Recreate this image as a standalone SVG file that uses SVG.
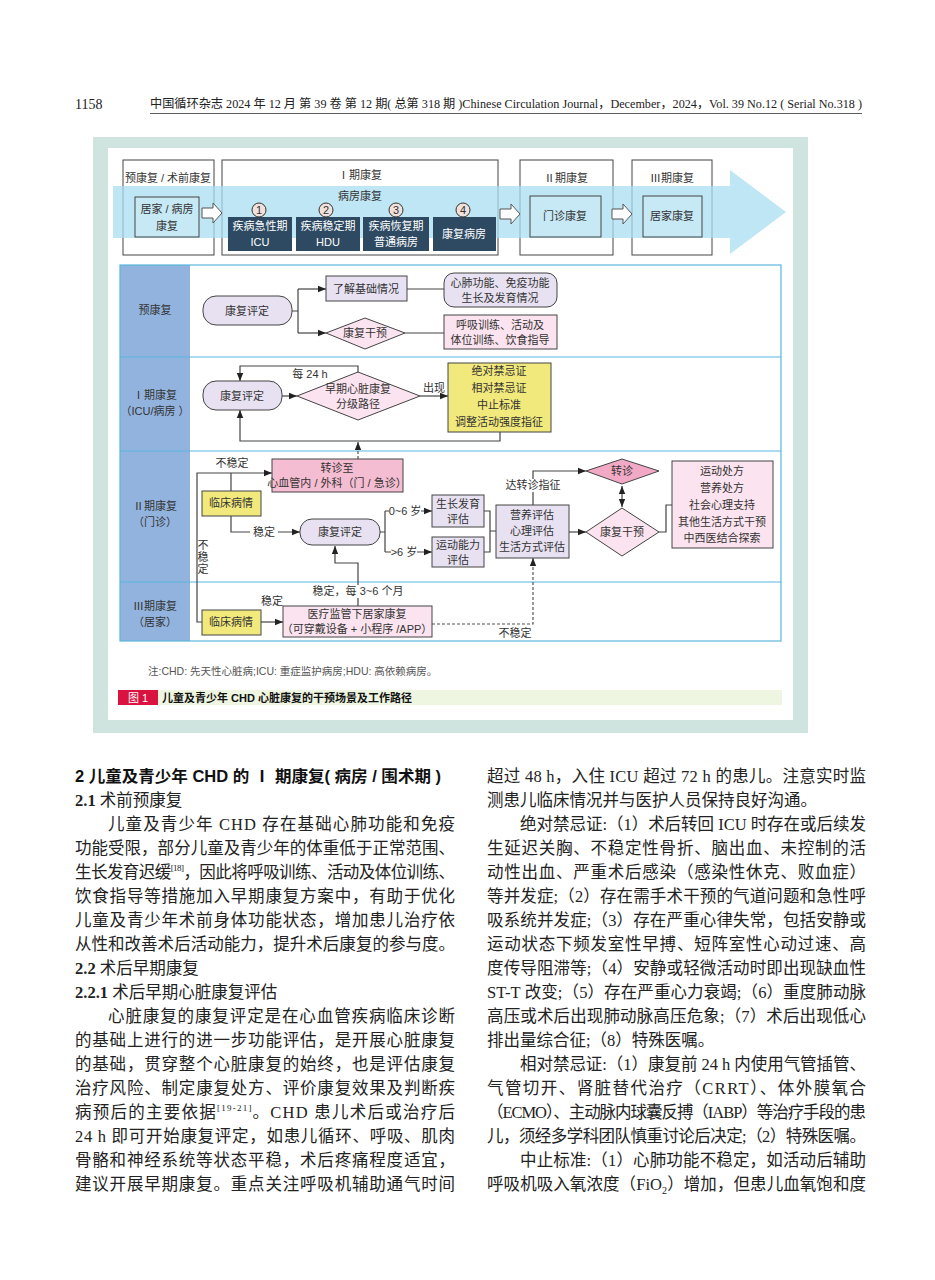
<svg xmlns="http://www.w3.org/2000/svg" width="935" height="1280" viewBox="0 0 935 1280">
<defs>
<style>
.f{font-family:"Liberation Sans","Noto Sans CJK SC",sans-serif;font-size:11px;fill:#333;text-anchor:middle}
.fw{font-family:"Liberation Sans","Noto Sans CJK SC",sans-serif;font-size:11px;fill:#fff;text-anchor:middle}
.b{font-family:"Liberation Serif","Noto Sans CJK SC",serif;font-size:16.5px;fill:#222}
.h{font-family:"Liberation Sans","Noto Sans CJK SC",sans-serif;font-size:16px;fill:#111;font-weight:bold}
.bx{stroke:#444;stroke-width:1}
.c{fill:none;stroke:#444;stroke-width:1.2}
.d{fill:none;stroke:#555;stroke-width:1.2;stroke-dasharray:3 2}
.lav{fill:#e7e1f1}
.pk{fill:#fbe4ef}
.yl{fill:#f2e97c}
.lb{fill:#fff}
</style>
<marker id="ah" viewBox="0 0 10 10" refX="10" refY="5" markerWidth="8" markerHeight="8" markerUnits="userSpaceOnUse" orient="auto-start-reverse"><path d="M0,1 L10,5 L0,9z" fill="#222"/></marker>
</defs>
<rect width="935" height="1280" fill="#fff"/>
<g id="header">
<text x="75" y="109" style="font-family:'Liberation Serif',serif;font-size:14px;fill:#222">1158</text>
<text x="150" y="108" textLength="712" lengthAdjust="spacingAndGlyphs" style="font-family:'Liberation Serif','Noto Sans CJK SC',serif;font-size:12.5px;fill:#222">中国循环杂志 2024 年 12 月 第 39 卷 第 12 期( 总第 318 期 )Chinese Circulation Journal，December，2024，Vol. 39 No.12 ( Serial No.318 )</text>
<line x1="150" y1="113.5" x2="862" y2="113.5" stroke="#333" stroke-width="0.8"/>
</g>
<g id="frame">
<rect x="93" y="137" width="715" height="596" fill="#cfe3df"/>
<rect x="108" y="148" width="685" height="572" fill="#fff"/>
</g>
<g id="banner">
<rect x="123" y="160" width="91" height="95" fill="#fff" class="bx"/>
<rect x="222" y="160" width="276" height="95" fill="#fff" class="bx"/>
<rect x="520" y="160" width="93" height="95" fill="#fff" class="bx"/>
<rect x="632" y="160" width="80" height="95" fill="#fff" class="bx"/>
<polygon points="113,186 730,186 730,170 786,212 730,254 730,238 113,238" fill="#a9ddf1" opacity="0.75"/>
<text class="f" x="168" y="182">预康复 / 术前康复</text>
<text class="f" x="360" y="179">Ⅰ期康复</text>
<text class="f" x="360" y="200">病房康复</text>
<text class="f" x="566" y="182">Ⅱ期康复</text>
<text class="f" x="672" y="182">Ⅲ期康复</text>
<rect x="135" y="197" width="64" height="40" fill="#c6e9f5" class="bx"/>
<text class="f" x="167" y="213">居家 / 病房</text>
<text class="f" x="167" y="230">康复</text>
<polygon points="202,208 213,208 213,203 222,213 213,223 213,218 202,218" fill="#fff" stroke="#555"/>
<polygon points="500,209 511,209 511,204 520,214 511,224 511,219 500,219" fill="#fff" stroke="#555"/>
<polygon points="612,209 623,209 623,204 632,214 623,224 623,219 612,219" fill="#fff" stroke="#555"/>
<rect x="228" y="217" width="64" height="34" fill="#2e4a62"/>
<rect x="296" y="217" width="64" height="34" fill="#2e4a62"/>
<rect x="363" y="217" width="66" height="34" fill="#2e4a62"/>
<rect x="433" y="217" width="63" height="34" fill="#2e4a62"/>
<circle cx="259" cy="210" r="7" fill="#f1e1dc" stroke="#333"/>
<circle cx="326" cy="210" r="7" fill="#f1e1dc" stroke="#333"/>
<circle cx="396" cy="210" r="7" fill="#f1e1dc" stroke="#333"/>
<circle cx="463" cy="210" r="7" fill="#f1e1dc" stroke="#333"/>
<text class="f" x="259" y="214">1</text>
<text class="f" x="326" y="214">2</text>
<text class="f" x="396" y="214">3</text>
<text class="f" x="463" y="214">4</text>
<text class="fw" x="260" y="230">疾病急性期</text>
<text class="fw" x="260" y="246">ICU</text>
<text class="fw" x="328" y="230">疾病稳定期</text>
<text class="fw" x="328" y="246">HDU</text>
<text class="fw" x="396" y="230">疾病恢复期</text>
<text class="fw" x="396" y="246">普通病房</text>
<text class="fw" x="464" y="238">康复病房</text>
<rect x="530" y="196" width="71" height="41" fill="#c6e9f5" class="bx"/>
<text class="f" x="565" y="220">门诊康复</text>
<rect x="643" y="196" width="59" height="41" fill="#c6e9f5" class="bx"/>
<text class="f" x="672" y="220">居家康复</text>
</g>
<g id="lanes">
<rect x="120" y="265" width="70" height="376" fill="#92b3de"/>
<rect x="120" y="265" width="661" height="376" fill="none" stroke="#5ab6de" stroke-width="1.2"/>
<line x1="120" y1="357" x2="781" y2="357" stroke="#5ab6de" stroke-width="1.2"/>
<line x1="120" y1="451" x2="781" y2="451" stroke="#5ab6de" stroke-width="1.2"/>
<line x1="120" y1="582" x2="781" y2="582" stroke="#5ab6de" stroke-width="1.2"/>
<text class="f" x="155" y="314">预康复</text>
<text class="f" x="155" y="399">Ⅰ期康复</text>
<text class="f" x="155" y="415">（ICU/病房 ）</text>
<text class="f" x="155" y="510">Ⅱ期康复</text>
<text class="f" x="155" y="526">（门诊）</text>
<text class="f" x="155" y="610">Ⅲ期康复</text>
<text class="f" x="155" y="626">（居家）</text>
</g>
<g id="connectors">
<path class="c" d="M292,311 H298 M298,289 V333"/>
<path class="c" d="M298,289 H326" marker-end="url(#ah)"/>
<path class="c" d="M298,333 H326" marker-end="url(#ah)"/>
<path class="c" d="M407,289 H444 M405,333 H444"/>
<path class="c" d="M282,396 H297" marker-end="url(#ah)"/>
<path class="c" d="M358,373 V366 H240 V381" marker-end="url(#ah)"/>
<path class="c" d="M420,396 H448" marker-end="url(#ah)"/>
<path class="c" d="M500,432 V441 H240 V410" marker-end="url(#ah)"/>
<path class="d" d="M358,459 V442" marker-end="url(#ah)"/>
<path class="c" d="M202,622 H197 V473 H272" marker-end="url(#ah)"/>
<path class="c" d="M231,491 V473"/>
<path class="c" d="M231,516 V532 H300" marker-end="url(#ah)"/>
<path class="c" d="M380,532 H385 M385,511 V552"/>
<path class="c" d="M385,511 H432" marker-end="url(#ah)"/>
<path class="c" d="M385,552 H432" marker-end="url(#ah)"/>
<path class="c" d="M484,511 H490 V552 H484 M490,531 H496"/>
<path class="c" d="M569,532 H586" marker-end="url(#ah)"/>
<path class="c" d="M622,486 V507" marker-start="url(#ah)" marker-end="url(#ah)"/>
<path class="c" d="M533,505 V471 H586" marker-end="url(#ah)"/>
<path class="c" d="M659,532 H666 V505 H672"/>
<path class="c" d="M261,622 H283" marker-end="url(#ah)"/>
<path class="c" d="M358,606 V563 H335 V546" marker-end="url(#ah)"/>
<path class="d" d="M432,624 H533 V558" marker-end="url(#ah)"/>
<rect x="297" y="369" width="26" height="12" class="lb"/>
<text class="f" x="310" y="378">每 24 h</text>
<text class="f" x="434" y="392">出现</text>
<text class="f" x="232" y="467">不稳定</text>
<rect x="250" y="526" width="28" height="12" class="lb"/>
<text class="f" x="264" y="536">稳定</text>
<rect x="389" y="505" width="32" height="12" class="lb"/>
<text class="f" x="405" y="515">0~6 岁</text>
<rect x="391" y="546" width="26" height="12" class="lb"/>
<text class="f" x="404" y="556">&gt;6 岁</text>
<rect x="504" y="479" width="58" height="13" class="lb"/>
<text class="f" x="533" y="489">达转诊指征</text>
<text class="f" x="203" y="549">不</text>
<text class="f" x="203" y="561">稳</text>
<text class="f" x="203" y="573">定</text>
<text class="f" x="272" y="605">稳定</text>
<rect x="313" y="585" width="90" height="13" class="lb"/>
<text class="f" x="358" y="595">稳定，每 3~6 个月</text>
<text class="f" x="515" y="637">不稳定</text>
</g>
<g id="n-pre-eval"><rect x="203" y="296" width="89" height="29" rx="13" class="lav bx"/><text class="f" x="247" y="315">康复评定</text></g>
<g id="n-basic"><rect x="326" y="276" width="81" height="25" class="lav bx"/><text class="f" x="366" y="293">了解基础情况</text></g>
<g id="n-cardio"><rect x="444" y="273" width="113" height="34" rx="10" class="lav bx"/><text class="f" x="500" y="287">心肺功能、免疫功能</text><text class="f" x="500" y="302">生长及发育情况</text></g>
<g id="n-pre-int"><polygon points="326,333 365,318 405,333 365,349" class="pk bx"/><text class="f" x="365" y="337">康复干预</text></g>
<g id="n-train"><rect x="444" y="315" width="113" height="34" class="pk bx"/><text class="f" x="500" y="329">呼吸训练、活动及</text><text class="f" x="500" y="344">体位训练、饮食指导</text></g>
<g id="n-i-eval"><rect x="203" y="381" width="79" height="29" rx="13" class="lav bx"/><text class="f" x="242" y="400">康复评定</text></g>
<g id="n-path"><polygon points="297,396 358,372 420,396 358,420" class="pk bx"/><text class="f" x="358" y="393">早期心脏康复</text><text class="f" x="358" y="408">分级路径</text></g>
<g id="n-contra"><rect x="448" y="363" width="103" height="69" class="yl bx"/><text class="f" x="499" y="375">绝对禁忌证</text><text class="f" x="499" y="392">相对禁忌证</text><text class="f" x="499" y="409">中止标准</text><text class="f" x="499" y="426">调整活动强度指征</text></g>
<g id="n-refer"><rect x="272" y="459" width="131" height="33" fill="#f5bdd2" class="bx"/><text class="f" x="337" y="472">转诊至</text><text class="f" x="337" y="487">心血管内 / 外科（门 / 急诊）</text></g>
<g id="n-ii-clin"><rect x="202" y="491" width="59" height="25" class="yl bx"/><text class="f" x="231" y="507">临床病情</text></g>
<g id="n-ii-eval"><rect x="300" y="519" width="80" height="26" rx="12" class="lav bx"/><text class="f" x="340" y="536">康复评定</text></g>
<g id="n-growth"><rect x="432" y="495" width="52" height="32" class="lav bx"/><text class="f" x="458" y="508">生长发育</text><text class="f" x="458" y="523">评估</text></g>
<g id="n-motor"><rect x="432" y="537" width="52" height="30" class="lav bx"/><text class="f" x="458" y="549">运动能力</text><text class="f" x="458" y="564">评估</text></g>
<g id="n-nutri"><rect x="496" y="505" width="73" height="53" class="lav bx"/><text class="f" x="532" y="519">营养评估</text><text class="f" x="532" y="535">心理评估</text><text class="f" x="532" y="551">生活方式评估</text></g>
<g id="n-referd"><polygon points="586,471 622,459 659,471 622,484" fill="#f2a9c6" class="bx"/><text class="f" x="622" y="475">转诊</text></g>
<g id="n-ii-int"><polygon points="586,532 622,508 659,532 622,556" class="pk bx"/><text class="f" x="622" y="536">康复干预</text></g>
<g id="n-rx"><rect x="672" y="461" width="101" height="87" class="pk bx"/><text class="f" x="722" y="475">运动处方</text><text class="f" x="722" y="492">营养处方</text><text class="f" x="722" y="509">社会心理支持</text><text class="f" x="722" y="526">其他生活方式干预</text><text class="f" x="722" y="542">中西医结合探索</text></g>
<g id="n-iii-clin"><rect x="202" y="610" width="59" height="25" class="yl bx"/><text class="f" x="231" y="626">临床病情</text></g>
<g id="n-home"><rect x="283" y="606" width="149" height="31" class="pk bx"/><text class="f" x="357" y="618">医疗监管下居家康复</text><text class="f" x="357" y="633">（可穿戴设备 + 小程序 /APP）</text></g>
<g id="caption">
<text x="148" y="675" style="font-family:'Liberation Sans','Noto Sans CJK SC',sans-serif;font-size:10.5px;fill:#555">注:CHD: 先天性心脏病;ICU: 重症监护病房;HDU: 高依赖病房。</text>
<rect x="118" y="690" width="664" height="15" fill="#eef5e1"/>
<rect x="118" y="690" width="40" height="15" fill="#d9123f"/>
<text x="138" y="702" style="font-family:'Liberation Sans','Noto Sans CJK SC',sans-serif;font-size:11px;fill:#fff;text-anchor:middle">图 1</text>
<text x="162" y="702" style="font-family:'Liberation Sans','Noto Sans CJK SC',sans-serif;font-size:11px;fill:#111;font-weight:bold">儿童及青少年 CHD 心脏康复的干预场景及工作路径</text>
</g>
<g id="body-left">
<text class="h" x="75" y="782" textLength="366" lengthAdjust="spacingAndGlyphs">2  儿童及青少年 CHD 的 Ⅰ 期康复( 病房 / 围术期 )</text>
<text class="b" x="75" y="806"><tspan font-weight="bold">2.1</tspan> 术前预康复</text>
<text class="b" x="108" y="830" textLength="347" lengthAdjust="spacing">儿童及青少年 CHD 存在基础心肺功能和免疫</text>
<text class="b" x="75" y="854" textLength="380" lengthAdjust="spacing">功能受限，部分儿童及青少年的体重低于正常范围、</text>
<text class="b" x="75" y="878" textLength="380" lengthAdjust="spacing">生长发育迟缓<tspan font-size="9" dy="-7">[18]</tspan><tspan dy="7">，因此将呼吸训练、活动及体位训练、</tspan></text>
<text class="b" x="75" y="902" textLength="380" lengthAdjust="spacing">饮食指导等措施加入早期康复方案中，有助于优化</text>
<text class="b" x="75" y="926" textLength="380" lengthAdjust="spacing">儿童及青少年术前身体功能状态，增加患儿治疗依</text>
<text class="b" x="75" y="950" textLength="380" lengthAdjust="spacing">从性和改善术后活动能力，提升术后康复的参与度。</text>
<text class="b" x="75" y="974"><tspan font-weight="bold">2.2</tspan>  术后早期康复</text>
<text class="b" x="75" y="998"><tspan font-weight="bold">2.2.1</tspan>  术后早期心脏康复评估</text>
<text class="b" x="108" y="1022" textLength="347" lengthAdjust="spacing">心脏康复的康复评定是在心血管疾病临床诊断</text>
<text class="b" x="75" y="1046" textLength="380" lengthAdjust="spacing">的基础上进行的进一步功能评估，是开展心脏康复</text>
<text class="b" x="75" y="1070" textLength="380" lengthAdjust="spacing">的基础，贯穿整个心脏康复的始终，也是评估康复</text>
<text class="b" x="75" y="1094" textLength="380" lengthAdjust="spacing">治疗风险、制定康复处方、评价康复效果及判断疾</text>
<text class="b" x="75" y="1118" textLength="380" lengthAdjust="spacing">病预后的主要依据<tspan font-size="9" dy="-7">[19-21]</tspan><tspan dy="7">。CHD 患儿术后或治疗后</tspan></text>
<text class="b" x="75" y="1142" textLength="380" lengthAdjust="spacing">24 h 即可开始康复评定，如患儿循环、呼吸、肌肉</text>
<text class="b" x="75" y="1166" textLength="380" lengthAdjust="spacing">骨骼和神经系统等状态平稳，术后疼痛程度适宜，</text>
<text class="b" x="75" y="1190" textLength="380" lengthAdjust="spacing">建议开展早期康复。重点关注呼吸机辅助通气时间</text>
</g>
<g id="body-right">
<text class="b" x="487" y="782" textLength="379" lengthAdjust="spacing">超过 48 h，入住 ICU 超过 72 h 的患儿。注意实时监</text>
<text class="b" x="487" y="806">测患儿临床情况并与医护人员保持良好沟通。</text>
<text class="b" x="520" y="830" textLength="346" lengthAdjust="spacing">绝对禁忌证:（1）术后转回 ICU 时存在或后续发</text>
<text class="b" x="487" y="854" textLength="379" lengthAdjust="spacing">生延迟关胸、不稳定性骨折、脑出血、未控制的活</text>
<text class="b" x="487" y="878" textLength="379" lengthAdjust="spacing">动性出血、严重术后感染（感染性休克、败血症）</text>
<text class="b" x="487" y="902" textLength="379" lengthAdjust="spacing">等并发症;（2）存在需手术干预的气道问题和急性呼</text>
<text class="b" x="487" y="926" textLength="379" lengthAdjust="spacing">吸系统并发症;（3）存在严重心律失常，包括安静或</text>
<text class="b" x="487" y="950" textLength="379" lengthAdjust="spacing">运动状态下频发室性早搏、短阵室性心动过速、高</text>
<text class="b" x="487" y="974" textLength="379" lengthAdjust="spacing">度传导阻滞等;（4）安静或轻微活动时即出现缺血性</text>
<text class="b" x="487" y="998" textLength="379" lengthAdjust="spacing">ST-T 改变;（5）存在严重心力衰竭;（6）重度肺动脉</text>
<text class="b" x="487" y="1022" textLength="379" lengthAdjust="spacing">高压或术后出现肺动脉高压危象;（7）术后出现低心</text>
<text class="b" x="487" y="1046">排出量综合征;（8）特殊医嘱。</text>
<text class="b" x="520" y="1070" textLength="346" lengthAdjust="spacing">相对禁忌证:（1）康复前 24 h 内使用气管插管、</text>
<text class="b" x="487" y="1094" textLength="379" lengthAdjust="spacing">气管切开、肾脏替代治疗（CRRT）、体外膜氧合</text>
<text class="b" x="487" y="1118" textLength="379" lengthAdjust="spacing">（ECMO）、主动脉内球囊反搏（IABP）等治疗手段的患</text>
<text class="b" x="487" y="1142" textLength="379" lengthAdjust="spacing">儿，须经多学科团队慎重讨论后决定;（2）特殊医嘱。</text>
<text class="b" x="520" y="1166" textLength="346" lengthAdjust="spacing">中止标准:（1）心肺功能不稳定，如活动后辅助</text>
<text class="b" x="487" y="1190" textLength="379" lengthAdjust="spacing">呼吸机吸入氧浓度（FiO<tspan font-size="10" dy="4">2</tspan><tspan dy="-4">）增加，但患儿血氧饱和度</tspan></text>
</g>
</svg>
